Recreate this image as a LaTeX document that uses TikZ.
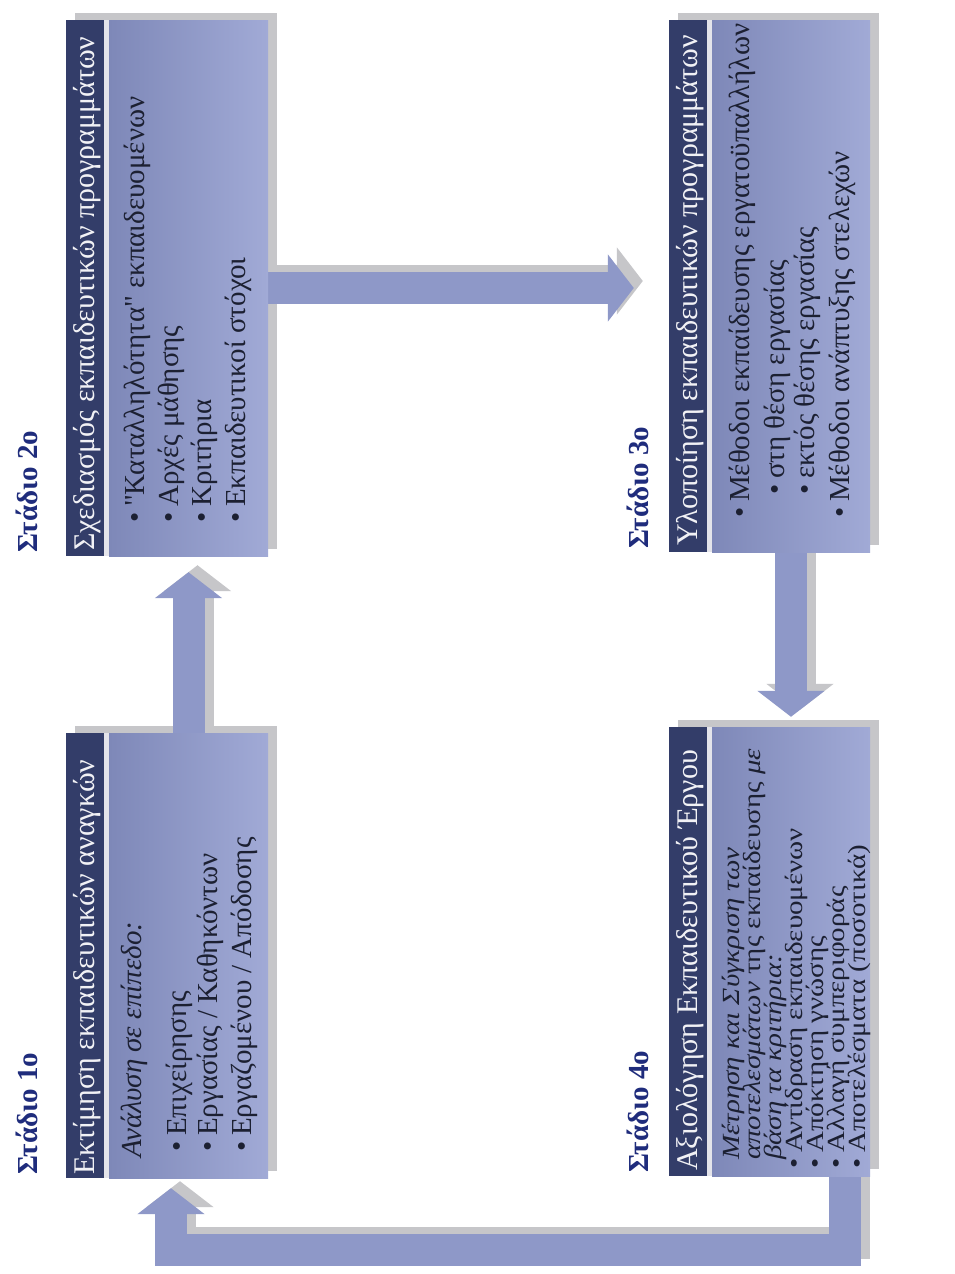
\documentclass[tikz,border=0pt]{standalone}
\usepackage{fontspec}
\setmainfont{Liberation Serif}[Ligatures=TeXOff]
\usetikzlibrary{arrows.meta}

\definecolor{barnavy}{HTML}{333D69}
\definecolor{bodyleft}{HTML}{7E88B8}
\definecolor{bodyright}{HTML}{A1AAD6}
\definecolor{arrowblue}{HTML}{8E98C8}
\definecolor{shadowgray}{HTML}{C6C6C9}
\definecolor{stagenavy}{HTML}{1F2C7C}
\definecolor{inktext}{HTML}{1C2032}
\definecolor{titleink}{HTML}{F1F1F5}
\definecolor{gapwhite}{HTML}{E4E4EA}

\pgfdeclarelayer{paper}
\pgfdeclarelayer{shadowlayer}
\pgfdeclarelayer{arrowlayer}
\pgfsetlayers{paper,shadowlayer,arrowlayer,main}

\tikzset{
  titlebar/.style={fill=barnavy, draw=none, inner sep=0pt, minimum width=38pt},
  bodybox/.style={left color=bodyleft, right color=bodyright, draw=none, inner sep=0pt},
  boxshadow/.style={fill=shadowgray, transform canvas={shift={(9pt,7pt)}}},
  flowarrow/.style={draw=arrowblue, line width=32pt, line join=miter,
     -{Triangle[length=26pt 0 0, width=66pt 0 0]}},
  arrowshadow/.style={flowarrow, draw=shadowgray, transform canvas={shift={(9pt,7pt)}}},
  stagelabel/.style={rotate=90, anchor=base west, inner sep=0pt, text=stagenavy,
     font=\fontsize{29}{29}\selectfont\bfseries},
  bartitle/.style={rotate=90, anchor=base west, inner sep=0pt, text=titleink,
     font=\fontsize{30}{30}\selectfont},
  itemline/.style={rotate=90, anchor=base west, inner sep=0pt, text=inktext,
     font=\fontsize{29}{29}\selectfont},
  tightline/.style={itemline},
}
% bullet followed by a small gap
\newcommand{\bul}{•\hspace{0.2em}}
% lines of the fourth box are set with tighter leading
\newcommand{\tight}[1]{\scalebox{1}[0.85]{#1}}

\begin{document}
\begin{tikzpicture}[x=1pt, y=-1pt]
\useasboundingbox (0,0) rectangle (954,1274);
\begin{pgfonlayer}{paper}
  \fill[white] (0,0) rectangle (954,1274);
\end{pgfonlayer}

% ---- boxes: dark title bar + shaded body ----
\node[titlebar, minimum height=445pt] (t1) at (85,955.5) {};
\node[bodybox, minimum width=159pt, minimum height=445pt] (b1) at (188.5,955.5) {};
\node[titlebar, minimum height=536pt] (t2) at (85,288) {};
\node[bodybox, minimum width=159pt, minimum height=536pt] (b2) at (188.5,288) {};
\node[titlebar, minimum height=532pt] (t3) at (688,286) {};
\node[bodybox, minimum width=158pt, minimum height=532pt] (b3) at (791,286) {};
\node[titlebar, minimum height=449pt] (t4) at (688,951.5) {};
\node[bodybox, minimum width=158pt, minimum height=449pt] (b4) at (791,951.5) {};

% thin light seam between bar and body
\fill[gapwhite] (t1.north east) rectangle (b1.south west);
\fill[gapwhite] (t2.north east) rectangle (b2.south west);
\fill[gapwhite] (t3.north east) rectangle (b3.south west);
\fill[gapwhite] (t4.north east) rectangle (b4.south west);

% ---- drop shadows of the boxes ----
\begin{pgfonlayer}{shadowlayer}
  \fill[boxshadow] (t1.north west) rectangle (b1.south east);
  \fill[boxshadow] (t2.north west) rectangle (b2.south east);
  \fill[boxshadow] (t3.north west) rectangle (b3.south east);
  \fill[boxshadow] (t4.north west) rectangle (b4.south east);
\end{pgfonlayer}

% ---- flow arrows ----
\coordinate (loopbase) at (0,1250);
\coordinate (d0) at ([xshift=54pt]b4.south);
\coordinate (d3) at ([xshift=-17.5pt]b1.south);

\begin{pgfonlayer}{shadowlayer}
  \draw[arrowshadow, shorten >=16pt] (b1.north) -- (b2.south);
  \draw[arrowshadow, shorten >=35pt] (b2.east) -- (b2.east -| t3.west);
  \draw[arrowshadow, shorten >=10pt] (b3.south) -- (b4.north);
  \draw[arrowshadow, shorten >=10pt] (d0) -- (d0 |- loopbase) -- (d3 |- loopbase) -- (d3);
\end{pgfonlayer}
\begin{pgfonlayer}{arrowlayer}
  \draw[flowarrow, shorten >=16pt] (b1.north) -- (b2.south);
  \draw[flowarrow, shorten >=35pt] (b2.east) -- (b2.east -| t3.west);
  \draw[flowarrow, shorten >=10pt] (b3.south) -- (b4.north);
  \draw[flowarrow, shorten >=10pt] (d0) -- (d0 |- loopbase) -- (d3 |- loopbase) -- (d3);
\end{pgfonlayer}

% ---- stage labels ----
\node[stagelabel] (s1) at (37,1175) {Στάδιο 1ο};
\node[stagelabel] (s2) at (37,553) {Στάδιο 2ο};
\node[stagelabel] (s3) at (648,549) {Στάδιο 3ο};
\node[stagelabel] (s4) at (648,1173) {Στάδιο 4ο};

% ---- titles ----
\node[bartitle] (h1) at (94,1175) {Εκτίμηση εκπαιδευτικών αναγκών};
\node[bartitle] (h2) at (94,551) {Σχεδιασμός εκπαιδευτικών προγραμμάτων};
\node[bartitle] (h3) at (697,546) {Υλοποίηση εκπαιδευτικών προγραμμάτων};
\node[bartitle] (h4) at (697,1171) {Αξιολόγηση Εκπαιδευτικού Έργου};

% ---- stage 1 content ----
\node[itemline] (p11) at (141,1158) {\itshape Ανάλυση σε επίπεδο:};
\node[itemline] (p12) at (186,1152) {\bul Επιχείρησης};
\node[itemline] (p13) at (217,1152) {\bul Εργασίας / Καθηκόντων};
\node[itemline] (p14) at (251,1152) {\bul Εργαζομένου / Απόδοσης};

% ---- stage 2 content ----
\node[itemline] (p21) at (144,523) {\bul "Καταλληλότητα" εκπαιδευομένων};
\node[itemline] (p22) at (178,523) {\bul Αρχές μάθησης};
\node[itemline] (p23) at (211,523) {\bul Κριτήρια};
\node[itemline] (p24) at (245,523) {\bul Εκπαιδευτικοί στόχοι};

% ---- stage 3 content ----
\node[itemline] (p31) at (749,518) {\bul Μέθοδοι εκπαίδευσης εργατοϋπαλλήλων};
\node[itemline] (p32) at (784,495) {\bul στη θέση εργασίας};
\node[itemline] (p33) at (814,495) {\bul εκτός θέσης εργασίας};
\node[itemline] (p34) at (849,518) {\bul Μέθοδοι ανάπτυξης στελεχών};

% ---- stage 4 content ----
\node[tightline] (p41) at (739,1160) {\tight{\itshape Μέτρηση και Σύγκριση των}};
\node[tightline] (p42) at (760,1160) {\tight{\textit{αποτελεσμάτων} της εκπαίδευσης \textit{με}}};
\node[tightline] (p43) at (781,1160) {\tight{\itshape βάση τα κριτήρια:}};
\node[tightline] (p44) at (802,1169) {\tight{\bul Αντίδραση εκπαιδευομένων}};
\node[tightline] (p45) at (823,1169) {\tight{\bul Απόκτηση γνώσης}};
\node[tightline] (p46) at (844,1169) {\tight{\bul Αλλαγή συμπεριφοράς}};
\node[tightline] (p47) at (865,1169) {\tight{\bul Αποτελέσματα (ποσοτικά)}};
\end{tikzpicture}
\end{document}
